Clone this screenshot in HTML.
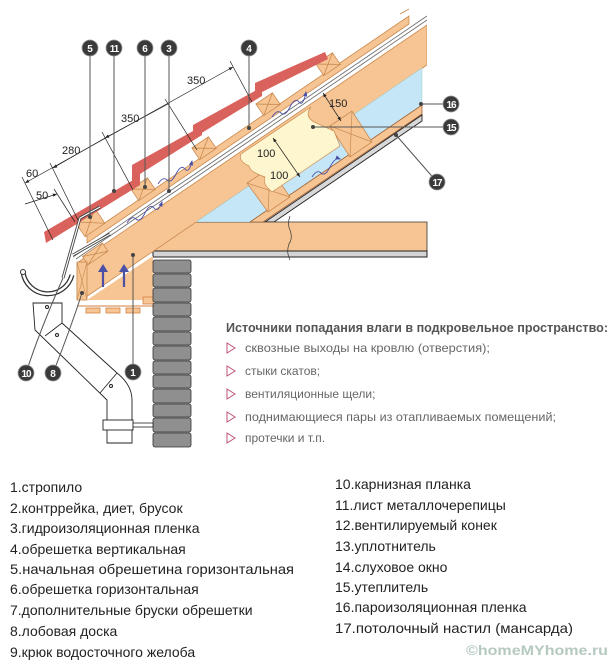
<!DOCTYPE html>
<html><head><meta charset="utf-8"><style>
html,body{margin:0;padding:0;background:#fff;}
svg{display:block;}
</style></head><body>
<svg width="615" height="660" viewBox="0 0 615 660" xmlns="http://www.w3.org/2000/svg" font-family="Liberation Sans, sans-serif">
<defs>
<clipPath id="cr"><rect x="0" y="0" width="423" height="222"/></clipPath>
<clipPath id="cr2"><rect x="0" y="0" width="427" height="400"/></clipPath>
<marker id="ar" viewBox="0 0 10 10" refX="10" refY="5" markerWidth="6" markerHeight="6" orient="auto-start-reverse"><path d="M0,1 L10,5 L0,9 z" fill="#222"/></marker>
<marker id="ab" viewBox="0 0 10 10" refX="8" refY="5" markerWidth="6" markerHeight="6" orient="auto"><path d="M0,1 L10,5 L0,9 z" fill="#4b4fa6"/></marker>
</defs>

<!-- beam -->
<path d="M175,222 L427,222 L427,251 L153,251 L153,240 L163,240 L163,230 L173,230 L173,222 Z" fill="#f7c594" stroke="#333" stroke-width="0.8"/>
<rect x="153" y="251" width="274" height="6" fill="#d4d4d4" stroke="#222" stroke-width="1"/>
<path d="M290,216 q-3,8 0,14 q3,8 -1,14 q-3,8 1,16" fill="none" stroke="#333" stroke-width="0.7"/>

<!-- rafter -->
<g clip-path="url(#cr2)">
<polygon points="77,263 427,25 427,65 86,297 77,300" fill="#f7c594" stroke="#c98a50" stroke-width="0.8"/>
</g>
<!-- insulation region -->
<g clip-path="url(#cr)">
<polygon points="196,222 422,68 422,105 250,222" fill="#c5e6f6" stroke="#9cc" stroke-width="0.5"/>
<polygon points="250,222 422,105 422,114 263,222" fill="#f7c594" stroke="#a06030" stroke-width="0.8"/>
<polygon points="265,222 422,115 422,121 274,222" fill="#d8d8d8" stroke="#222" stroke-width="0.9"/>
<polygon points="247,183 270,168 290,197 268,212" fill="#f7c594" stroke="#c98a50" stroke-width="0.8"/>
<path d="M247,183 L290,197 M270,168 L268,212" stroke="#c98a50" stroke-width="0.7"/>
<polygon points="330,126 352,111 372,142 350,157" fill="#f7c594" stroke="#c98a50" stroke-width="0.8"/>
<path d="M330,126 L372,142 M352,111 L350,157" stroke="#c98a50" stroke-width="0.7"/>
</g>
<!-- yellow cut -->
<path d="M241,154 L311,107 Q304,116 314,122 L334,131 L340,146 L272,192 Q262,184 265,177 Q250,172 249,166 Q238,161 241,154 Z" fill="#fdf6cf" stroke="#c98a50" stroke-width="0.7"/>

<!-- membranes & counter strip -->
<g clip-path="url(#cr2)">
<line x1="73" y1="257" x2="427" y2="16" stroke="#666" stroke-width="0.8"/>
<line x1="76" y1="259" x2="427" y2="20" stroke="#666" stroke-width="0.8"/>
<polygon points="87,235 409,16 409,24 87,243" fill="#f7c594" stroke="#c98a50" stroke-width="0.8"/>
<line x1="400" y1="14" x2="409" y2="9" stroke="#c98a50"/>
</g>
<!-- battens -->
<g fill="#f7c594" stroke="#c98a50" stroke-width="0.8">
<g transform="translate(95,230) rotate(-34.2)"><rect x="-12" y="-18" width="24" height="18"/><path d="M-12,-18 L12,0 M12,-18 L-12,0"/></g>
<g transform="translate(147,195) rotate(-34.2)"><rect x="-10" y="-14" width="20" height="14"/><path d="M-10,-14 L10,0 M10,-14 L-10,0"/></g>
<g transform="translate(208,154) rotate(-34.2)"><rect x="-10" y="-14" width="20" height="14"/><path d="M-10,-14 L10,0 M10,-14 L-10,0"/></g>
<g transform="translate(272,110) rotate(-34.2)"><rect x="-10" y="-14" width="20" height="14"/><path d="M-10,-14 L10,0 M10,-14 L-10,0"/></g>
<g transform="translate(332,70) rotate(-34.2)"><rect x="-10" y="-14" width="20" height="14"/><path d="M-10,-14 L10,0 M10,-14 L-10,0"/></g>
<g transform="translate(98,258) rotate(-34.2)"><rect x="-12" y="-10" width="24" height="10"/><path d="M-12,-10 L12,0 M12,-10 L-12,0"/></g>
</g>
<!-- tiles -->
<g fill="#da625d">
<polygon points="44,232 140,176 140,185 46,243"/>
<polygon points="132,165 202,126 202,135 140,174 140,180 132,182"/>
<polygon points="193,125 262,87 262,96 200,134 200,134 193,136"/>
<polygon points="255,83 325,52 328,59 262,92 262,91 255,93"/>
</g>

<!-- blue wave arrows -->
<g fill="none" stroke="#4b4fa6" stroke-width="0.9" marker-end="url(#ab)">
<path d="M127,223 q5,-8 9,-4 t9,-6 t9,-5 t8,-6"/>
<path d="M158,184 q5,-8 9,-4 t9,-6 t9,-5 t7,-8"/>
<path d="M272,117 q5,-8 9,-4 t9,-6 t9,-5 t7,-10"/>
<path d="M312,177 q5,-8 9,-4 t9,-6 t10,-8"/>
</g>

<!-- eave: fascia, soffit -->
<rect x="77" y="262" width="10" height="38" fill="#f7c594" stroke="#c98a50" stroke-width="0.8"/>
<path d="M77,262 L87,300 M87,262 L77,300" stroke="#c98a50" stroke-width="0.6"/>
<polygon points="87,300 153,256 153,300" fill="#f7c594"/>
<line x1="77" y1="306" x2="153" y2="306" stroke="#d08040" stroke-width="1"/>
<g fill="#f7c594" stroke="#d08040" stroke-width="0.8">
<rect x="86" y="308" width="14" height="5"/><rect x="106" y="308" width="14" height="5"/><rect x="126" y="308" width="14" height="5"/>
<rect x="143" y="297" width="10" height="7"/>
</g>
<g stroke="#4b4fa6" stroke-width="2.2" fill="#4b4fa6">
<line x1="103" y1="287" x2="103" y2="271"/><path d="M98,272 L103,264 L108,272 Z" stroke="none"/>
<line x1="124" y1="287" x2="124" y2="271"/><path d="M119,272 L124,264 L129,272 Z" stroke="none"/>
</g>
<!-- eave metal -->
<path d="M63,278 L80,218 L100,207" fill="none" stroke="#444" stroke-width="3"/>
<path d="M63,278 L80,218 L100,207" fill="none" stroke="#fff" stroke-width="1.2"/>
<path d="M73,255 L110,234" fill="none" stroke="#444" stroke-width="3"/>
<path d="M73,255 L110,234" fill="none" stroke="#fff" stroke-width="1.2"/>

<!-- bricks -->
<g fill="#8f8f8f" stroke="#333" stroke-width="0.8">
<rect x="153" y="260" width="38" height="13" rx="2"/><rect x="153" y="274" width="38" height="13" rx="2"/>
<rect x="153" y="288" width="38" height="14" rx="2"/><rect x="153" y="303" width="38" height="13" rx="2"/>
<rect x="153" y="317" width="38" height="14" rx="2"/><rect x="153" y="332" width="38" height="13" rx="2"/>
<rect x="153" y="346" width="38" height="14" rx="2"/><rect x="153" y="361" width="38" height="13" rx="2"/>
<rect x="153" y="375" width="38" height="13" rx="2"/><rect x="153" y="389" width="38" height="14" rx="2"/>
<rect x="153" y="404" width="38" height="13" rx="2"/><rect x="153" y="418" width="38" height="14" rx="2"/>
<rect x="153" y="433" width="38" height="14" rx="2"/>
</g>

<!-- gutter -->
<path d="M23,272 A25,25 0 0 0 72,275" fill="none" stroke="#333" stroke-width="5"/>
<path d="M23,272 A25,25 0 0 0 72,275" fill="none" stroke="#fff" stroke-width="2.5"/>
<circle cx="23" cy="272" r="2.5" fill="#fff" stroke="#333"/>
<!-- pipe -->
<path d="M33,303 L62,303 L62,323 L117,373 Q132,385 132,400 L132,443 L107,443 L107,400 L35,330 Z" fill="#fff" stroke="#222" stroke-width="0.9"/>
<line x1="45" y1="336" x2="62" y2="323" stroke="#222" stroke-width="0.8"/>
<line x1="100" y1="393" x2="117" y2="373" stroke="#222" stroke-width="0.8"/>
<circle cx="47" cy="307" r="1.5" fill="none" stroke="#222"/>
<circle cx="57" cy="335" r="1.5" fill="none" stroke="#222"/>
<circle cx="111" cy="386" r="1.5" fill="none" stroke="#222"/>
<rect x="103" y="420" width="30" height="10" fill="#fff" stroke="#222" stroke-width="0.9"/>
<rect x="133" y="423" width="20" height="4" fill="#fff" stroke="#222" stroke-width="0.8"/>

<!-- dimension lines -->
<g stroke="#222" stroke-width="0.7" fill="none">
<line x1="25" y1="183" x2="233" y2="67" marker-start="url(#ar)" marker-end="url(#ar)"/>
<line x1="53" y1="168" x2="105" y2="138" marker-start="url(#ar)"/>
<line x1="105" y1="138" x2="168" y2="104" marker-start="url(#ar)"/>
<line x1="25" y1="204" x2="57" y2="194" marker-end="url(#ar)"/>
<path d="M22,177 L53,240 M50,163 L78,220 M102,132 L133,190 M165,99 L197,150 M230,61 L252,102 M54,189 L75,222"/>
<line x1="323" y1="93" x2="341" y2="121" marker-start="url(#ar)" marker-end="url(#ar)"/>
<line x1="273" y1="138" x2="300" y2="177" marker-start="url(#ar)" marker-end="url(#ar)"/>
</g>
<g font-size="11" fill="#222">
<text x="26" y="177">60</text>
<text x="36" y="199">50</text>
<text x="62" y="154">280</text>
<text x="121" y="122">350</text>
<text x="187" y="84">350</text>
<text x="329" y="107">150</text>
<text x="257" y="157">100</text>
<text x="270" y="179">100</text>
</g>

<!-- leaders -->
<g stroke="#555" stroke-width="1" fill="none">
<line x1="90" y1="48" x2="90" y2="217"/>
<line x1="114" y1="48" x2="114" y2="191"/>
<line x1="145" y1="48" x2="145" y2="187"/>
<line x1="169" y1="48" x2="169" y2="191"/>
<line x1="249" y1="48" x2="249" y2="128"/>
<line x1="421" y1="104" x2="450" y2="104"/>
<line x1="313" y1="127" x2="450" y2="127"/>
<line x1="396" y1="135" x2="437" y2="182"/>
<line x1="133" y1="255" x2="133" y2="372"/>
<path d="M82,293 Q70,330 53,373"/>
<path d="M63,278 Q40,330 26,373"/>
</g>
<g fill="#444">
<circle cx="90" cy="217" r="2"/><circle cx="114" cy="191" r="2"/><circle cx="145" cy="187" r="2"/>
<circle cx="169" cy="191" r="2"/><circle cx="249" cy="128" r="2"/><circle cx="421" cy="104" r="2"/>
<circle cx="313" cy="127" r="2"/><circle cx="396" cy="135" r="2"/><circle cx="133" cy="255" r="2"/>
<circle cx="82" cy="293" r="2"/>
</g>
<g fill="#3a3a3a" stroke="#999" stroke-width="0.8">
<circle cx="90" cy="48" r="8"/><circle cx="114" cy="48" r="8"/><circle cx="145" cy="48" r="8"/>
<circle cx="169" cy="48" r="8"/><circle cx="249" cy="48" r="8"/><circle cx="451" cy="104" r="8"/>
<circle cx="451" cy="127" r="8"/><circle cx="437" cy="182" r="8"/><circle cx="133" cy="372" r="8"/>
<circle cx="53" cy="373" r="8"/><circle cx="26" cy="373" r="8"/>
</g>
<g fill="#fff" font-size="10" font-weight="bold" text-anchor="middle">
<text x="90" y="52">5</text><text x="114" y="52" letter-spacing="-1">11</text><text x="145" y="52">6</text>
<text x="169" y="52">3</text><text x="249" y="52">4</text><text x="451" y="108" letter-spacing="-1">16</text>
<text x="451" y="131" letter-spacing="-1">15</text><text x="437" y="186" letter-spacing="-1">17</text>
<text x="133" y="376">1</text><text x="53" y="377">8</text><text x="26" y="377" letter-spacing="-1">10</text>
</g>

<!-- moisture sources -->
<text x="226" y="332" font-size="12.5" font-weight="bold" fill="#555" textLength="382" lengthAdjust="spacingAndGlyphs">Источники попадания влаги в подкровельное пространство:</text>
<g fill="none" stroke="#c0507a" stroke-width="1">
<path d="M227,343 L235,348 L227,353 Z"/><path d="M227,366 L235,371 L227,376 Z"/>
<path d="M227,389 L235,394 L227,399 Z"/><path d="M227,412 L235,417 L227,422 Z"/>
<path d="M227,433 L235,438 L227,443 Z"/>
</g>
<g font-size="12" fill="#666">
<text x="245" y="352" textLength="245" lengthAdjust="spacingAndGlyphs">сквозные  выходы на кровлю (отверстия);</text>
<text x="245" y="375">стыки скатов;</text>
<text x="245" y="398">вентиляционные щели;</text>
<text x="245" y="421" textLength="311" lengthAdjust="spacingAndGlyphs">поднимающиеся пары из отапливаемых помещений;</text>
<text x="245" y="442">протечки и т.п.</text>
</g>

<!-- legend -->
<g font-size="14" fill="#222">
<text x="10" y="492">1.стропило</text>
<text x="10" y="513">2.контррейка, диет, брусок</text>
<text x="10" y="533">3.гидроизоляционная пленка</text>
<text x="10" y="554">4.обрешетка вертикальная</text>
<text x="10" y="574" textLength="284" lengthAdjust="spacingAndGlyphs">5.начальная обрешетина горизонтальная</text>
<text x="10" y="594">6.обрешетка горизонтальная</text>
<text x="10" y="615">7.дополнительные бруски обрешетки</text>
<text x="10" y="636">8.лобовая доска</text>
<text x="10" y="657">9.крюк водосточного желоба</text>
<text x="335" y="489">10.карнизная планка</text>
<text x="335" y="510">11.лист металлочерепицы</text>
<text x="335" y="530">12.вентилируемый конек</text>
<text x="335" y="551">13.уплотнитель</text>
<text x="335" y="572">14.слуховое окно</text>
<text x="335" y="592">15.утеплитель</text>
<text x="335" y="612">16.пароизоляционная пленка</text>
<text x="335" y="633" textLength="238" lengthAdjust="spacingAndGlyphs">17.потолочный настил (мансарда)</text>
</g>
<text x="466" y="655" font-size="14" font-weight="bold" fill="#b5c9bf" textLength="142" lengthAdjust="spacingAndGlyphs">©homeMYhome.ru</text>
</svg>
</body></html>
